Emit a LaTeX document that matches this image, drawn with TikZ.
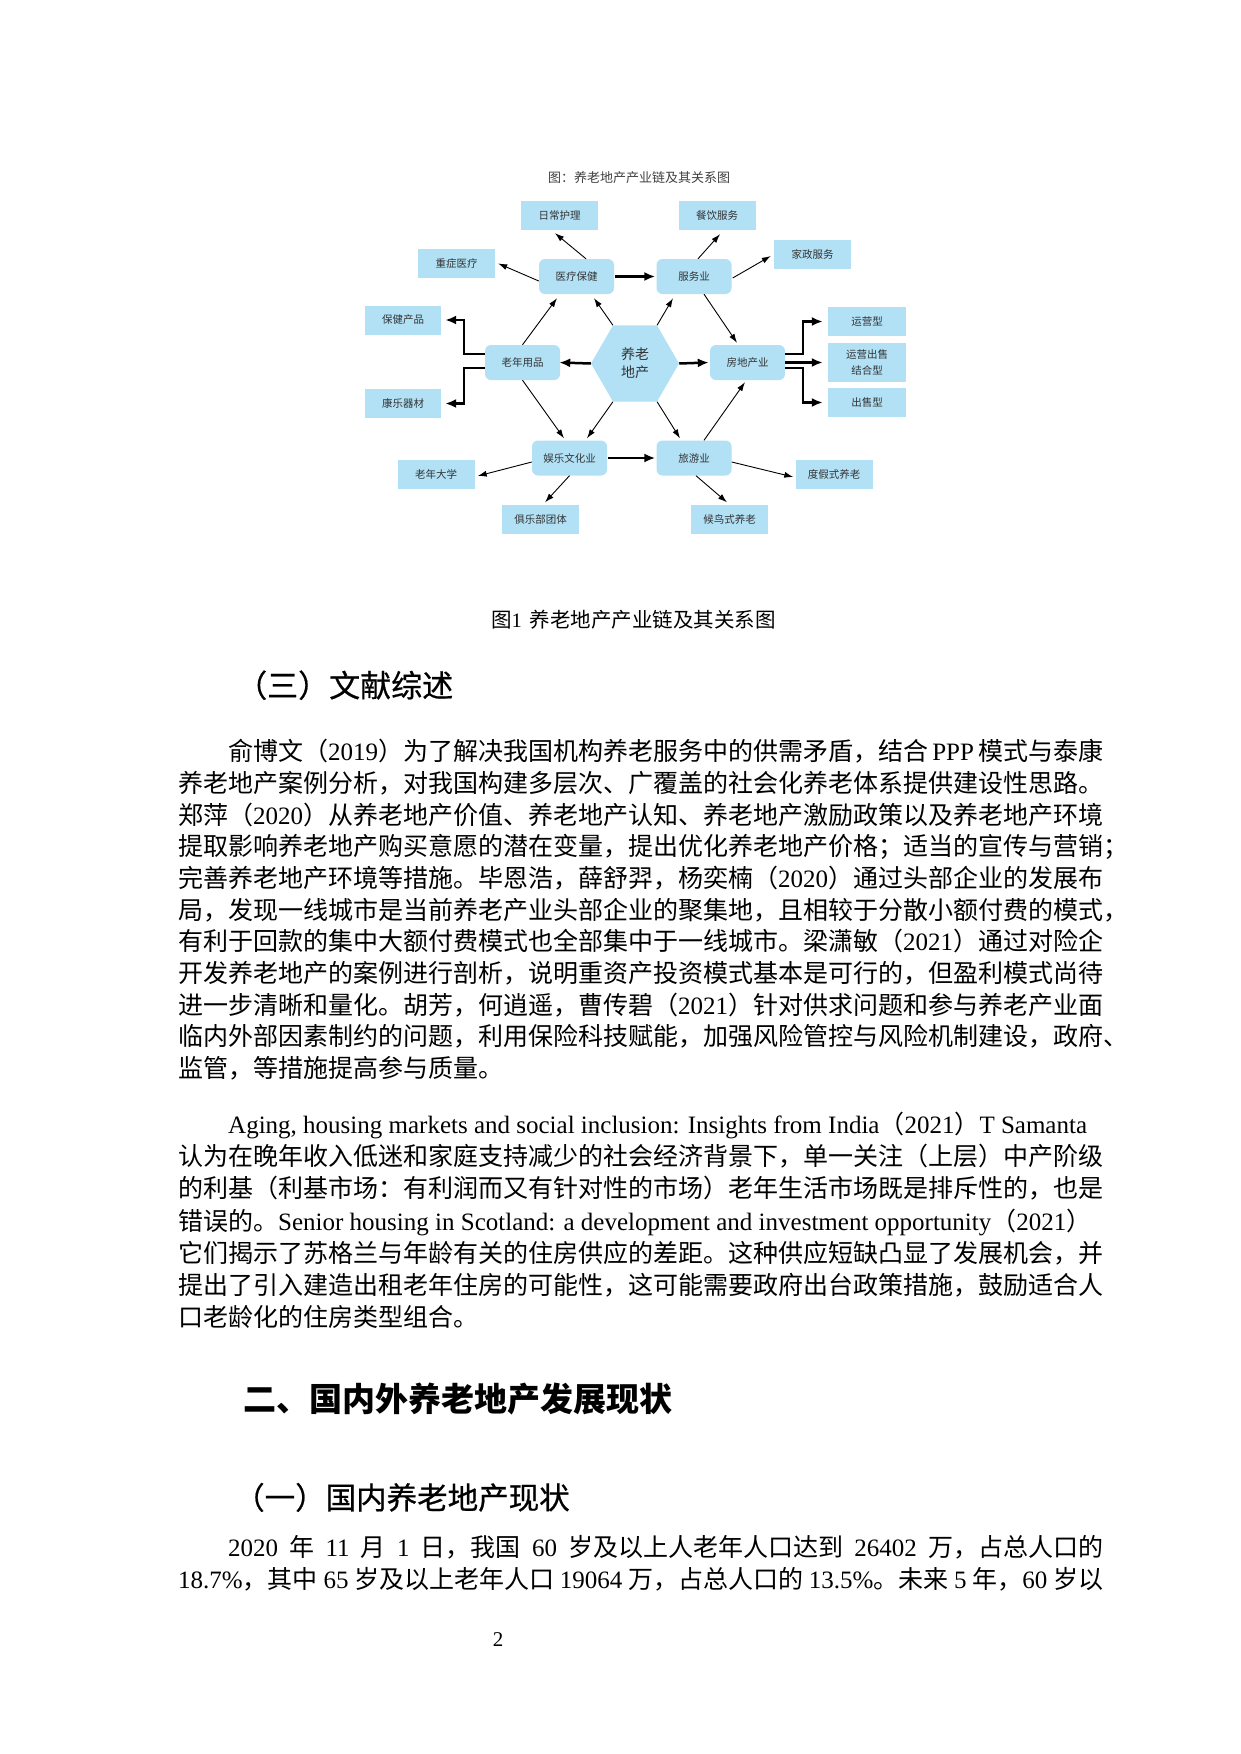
\documentclass[tikz,border=0pt]{standalone}
\usepackage{fontspec}
\setmainfont{Noto Sans CJK SC}
\newfontfamily\lat{Liberation Serif}
\newfontfamily\heimed{Noto Sans CJK SC}[FakeBold=0.6]
\usepackage[svgnames]{xcolor}
\usepackage{tikz}
\usetikzlibrary{
  shapes.geometric,
  arrows.meta}

\definecolor{boxblue}{RGB}{178,225,246}
\XeTeXlinebreaklocale "zh"
\XeTeXlinebreakskip=0pt plus 2pt
\newcommand\ltn[1]{{\lat #1}}
\newcommand\jline[2]{\makebox[#1][s]{#2}}

\tikzset{
  leaf/.style={
    fill=boxblue,
    minimum width=77pt,
    minimum height=29pt,
    inner sep=0pt,
    text=black!80,
    font=\fontsize{10.5pt}{16pt}\selectfont},
  hub/.style={
    leaf,
    rounded corners=6pt,
    minimum width=75pt,
    minimum height=35pt},
  link/.style={line width=0.9pt, -{Latex[length=9pt,width=6pt]}},
  heavy/.style={line width=2.5pt, -{Latex[length=11pt,width=9pt]}},
  bodyline/.style={anchor=base west, inner sep=0pt, font=\fontsize{25pt}{32pt}\selectfont},
}

\begin{document}
\begin{tikzpicture}[x=1pt, y=-1pt]
\useasboundingbox[fill=white] (0,0) rectangle (1240,1754);

\node[text=black!75, font=\fontsize{13pt}{15pt}\selectfont] (title) at (639,178) {图：养老地产产业链及其关系图};

\node[leaf] (daily) at (559.5,215.5) {日常护理};
\node[leaf] (meal) at (717,215.5) {餐饮服务};
\node[leaf] (home) at (812.5,254) {家政服务};
\node[leaf] (severe) at (456.5,263.5) {重症医疗};
\node[hub] (med) at (576.5,276.5) {医疗保健};
\node[hub] (svc) at (694,276.5) {服务业};
\node[leaf, minimum width=76pt] (health) at (403,320) {保健产品};
\node[leaf, minimum width=78pt] (op) at (867,321.5) {运营型};
\node[hub] (elder) at (522.5,362.5) {老年用品};
\node[
  regular polygon,
  regular polygon sides=6,
  minimum size=88pt,
  inner sep=0pt,
  fill=boxblue,
  align=center,
  text=black!80,
  font=\fontsize{14pt}{18pt}\selectfont] (core) at (635,363.5) {养老\\地产};
\node[hub] (estate) at (747.5,362.5) {房地产业};
\node[leaf, minimum width=78pt, minimum height=39pt, align=center] (mixed) at (867,362.5) {运营出售\\结合型};
\node[leaf, minimum width=78pt] (sale) at (867,402.5) {出售型};
\node[leaf, minimum width=76pt] (sports) at (403,403.5) {康乐器材};
\node[hub] (ent) at (569.5,458) {娱乐文化业};
\node[hub] (tour) at (694,458) {旅游业};
\node[leaf] (univ) at (436,474.5) {老年大学};
\node[leaf] (resort) at (834,474.5) {度假式养老};
\node[leaf] (club) at (540.5,519) {俱乐部团体};
\node[leaf] (bird) at (729.5,519) {候鸟式养老};

\draw[link] ([xshift=9.5pt]med.north) -- ([xshift=-4.5pt,yshift=-3pt]daily.south);
\draw[link] ([yshift=-4.5pt]med.west) -- ([xshift=3pt]severe.east);
\draw[heavy] ([xshift=1pt]med.east) -- ([xshift=-1pt]svc.west);
\draw[link] ([xshift=4pt]svc.north) -- ([xshift=3pt,yshift=-4pt]meal.south);
\draw[link] ([xshift=1pt,yshift=-1.5pt]svc.east) -- ([xshift=-3pt,yshift=-2pt]home.west);
\draw[link] ([xshift=10pt]svc.south) -- ([xshift=-10.5pt,yshift=2pt]estate.north);
\draw[link] (elder.north) -- ([xshift=-19.5pt,yshift=-4pt]med.south);
\draw[link] (core.120) -- ([xshift=17.5pt,yshift=-4pt]med.south);
\draw[link] (core.60) -- ([xshift=-21pt,yshift=-4pt]svc.south);
\draw[heavy] (core.west) -- ([xshift=-1pt]elder.east);
\draw[heavy] (core.east) -- ([xshift=-1pt]estate.west);
\draw[heavy] ([yshift=8.5pt]elder.west) -- ++(-21,0) |- ([xshift=4pt]health.east);
\draw[heavy] ([yshift=-5.5pt]elder.west) -- ++(-21,0) |- ([xshift=4pt]sports.east);
\draw[heavy] ([yshift=8.5pt]estate.east) -- ++(18,0) |- ([xshift=-5pt]op.west);
\draw[heavy] (estate.east) -- ([xshift=-5pt]mixed.west);
\draw[heavy] ([yshift=-5.5pt]estate.east) -- ++(18,0) |- ([xshift=-5pt]sale.west);
\draw[link] (elder.south) -- ([xshift=-5.5pt,yshift=2pt]ent.north);
\draw[link] (core.240) -- ([xshift=17.5pt,yshift=2pt]ent.north);
\draw[link] (core.300) -- ([xshift=-14pt,yshift=2pt]tour.north);
\draw[link] ([xshift=10pt]tour.north) -- ([xshift=-2.5pt,yshift=-2pt]estate.south);
\draw[heavy] ([xshift=1pt]ent.east) -- ([xshift=-1pt]tour.west);
\draw[link] ([yshift=-4pt]ent.west) -- ([xshift=3pt,yshift=-1.5pt]univ.east);
\draw[link] (ent.south) -- ([xshift=4.5pt,yshift=2pt]club.north);
\draw[link] ([yshift=-4pt]tour.east) -- ([xshift=-2pt,yshift=-2.5pt]resort.west);
\draw[link] ([xshift=2pt]tour.south) -- ([xshift=-2.5pt,yshift=2pt]bird.north);

\node[anchor=base west, inner sep=0pt, font=\fontsize{20.5pt}{24pt}\selectfont] (caption) at (491,627) {图\ltn{1}\hspace{8pt}养老地产产业链及其关系图};

\node[anchor=base west, inner sep=0pt, font=\heimed\fontsize{31pt}{36pt}\selectfont] (headlit) at (236,697) {（三）文献综述};

\node[bodyline] (pa1) at (228,760) {\jline{875pt}{俞博文（\ltn{2019}）为了解决我国机构养老服务中的供需矛盾，结合 \ltn{PPP} 模式与泰康}};
\node[bodyline] (pa2) at (178,792) {\jline{925pt}{养老地产案例分析，对我国构建多层次、广覆盖的社会化养老体系提供建设性思路。}};
\node[bodyline] (pa3) at (178,824) {\jline{925pt}{郑萍（\ltn{2020}）从养老地产价值、养老地产认知、养老地产激励政策以及养老地产环境}};
\node[bodyline] (pa4) at (178,855) {\jline{925pt}{提取影响养老地产购买意愿的潜在变量，提出优化养老地产价格；适当的宣传与营销；}};
\node[bodyline] (pa5) at (178,887) {\jline{925pt}{完善养老地产环境等措施。毕恩浩，薛舒羿，杨奕楠（\ltn{2020}）通过头部企业的发展布}};
\node[bodyline] (pa6) at (178,919) {\jline{925pt}{局，发现一线城市是当前养老产业头部企业的聚集地，且相较于分散小额付费的模式，}};
\node[bodyline] (pa7) at (178,950) {\jline{925pt}{有利于回款的集中大额付费模式也全部集中于一线城市。梁潇敏（\ltn{2021}）通过对险企}};
\node[bodyline] (pa8) at (178,982) {\jline{925pt}{开发养老地产的案例进行剖析，说明重资产投资模式基本是可行的，但盈利模式尚待}};
\node[bodyline] (pa9) at (178,1014) {\jline{925pt}{进一步清晰和量化。胡芳，何逍遥，曹传碧（\ltn{2021}）针对供求问题和参与养老产业面}};
\node[bodyline] (pa10) at (178,1045) {\jline{925pt}{临内外部因素制约的问题，利用保险科技赋能，加强风险管控与风险机制建设，政府、}};
\node[bodyline] (pa11) at (178,1077) {监管，等措施提高参与质量。};

\node[bodyline] (pb1) at (228,1133) {\ltn{Aging, housing markets and social inclusion: Insights from India}（\ltn{2021}）\ltn{T Samanta}};
\node[bodyline] (pb2) at (178,1165) {\jline{925pt}{认为在晚年收入低迷和家庭支持减少的社会经济背景下，单一关注（上层）中产阶级}};
\node[bodyline] (pb3) at (178,1197) {\jline{925pt}{的利基（利基市场：有利润而又有针对性的市场）老年生活市场既是排斥性的，也是}};
\node[bodyline] (pb4) at (178,1230) {错误的。\ltn{Senior housing in Scotland: a development and investment opportunity}（\ltn{2021}）};
\node[bodyline] (pb5) at (178,1262) {\jline{925pt}{它们揭示了苏格兰与年龄有关的住房供应的差距。这种供应短缺凸显了发展机会，并}};
\node[bodyline] (pb6) at (178,1294) {\jline{925pt}{提出了引入建造出租老年住房的可能性，这可能需要政府出台政策措施，鼓励适合人}};
\node[bodyline] (pb7) at (178,1326) {口老龄化的住房类型组合。};

\node[anchor=base west, inner sep=0pt, font=\bfseries\fontsize{33pt}{38pt}\selectfont] (headtwo) at (243,1411) {二、国内外养老地产发展现状};

\node[anchor=base west, inner sep=0pt, font=\heimed\fontsize{30.5pt}{36pt}\selectfont] (headdom) at (234,1509) {（一）国内养老地产现状};

\node[bodyline] (pc1) at (228,1556) {\jline{875pt}{\ltn{2020} 年 \ltn{11} 月 \ltn{1} 日，我国 \ltn{60} 岁及以上人老年人口达到 \ltn{26402} 万，占总人口的}};
\node[bodyline] (pc2) at (178,1588) {\jline{925pt}{\ltn{18.7\%}，其中 \ltn{65} 岁及以上老年人口 \ltn{19064} 万，占总人口的 \ltn{13.5\%}。未来 \ltn{5} 年，\ltn{60} 岁以}};

\node[font=\lat\fontsize{21pt}{24pt}\selectfont] (pageno) at (498,1640) {2};
\end{tikzpicture}
\end{document}
